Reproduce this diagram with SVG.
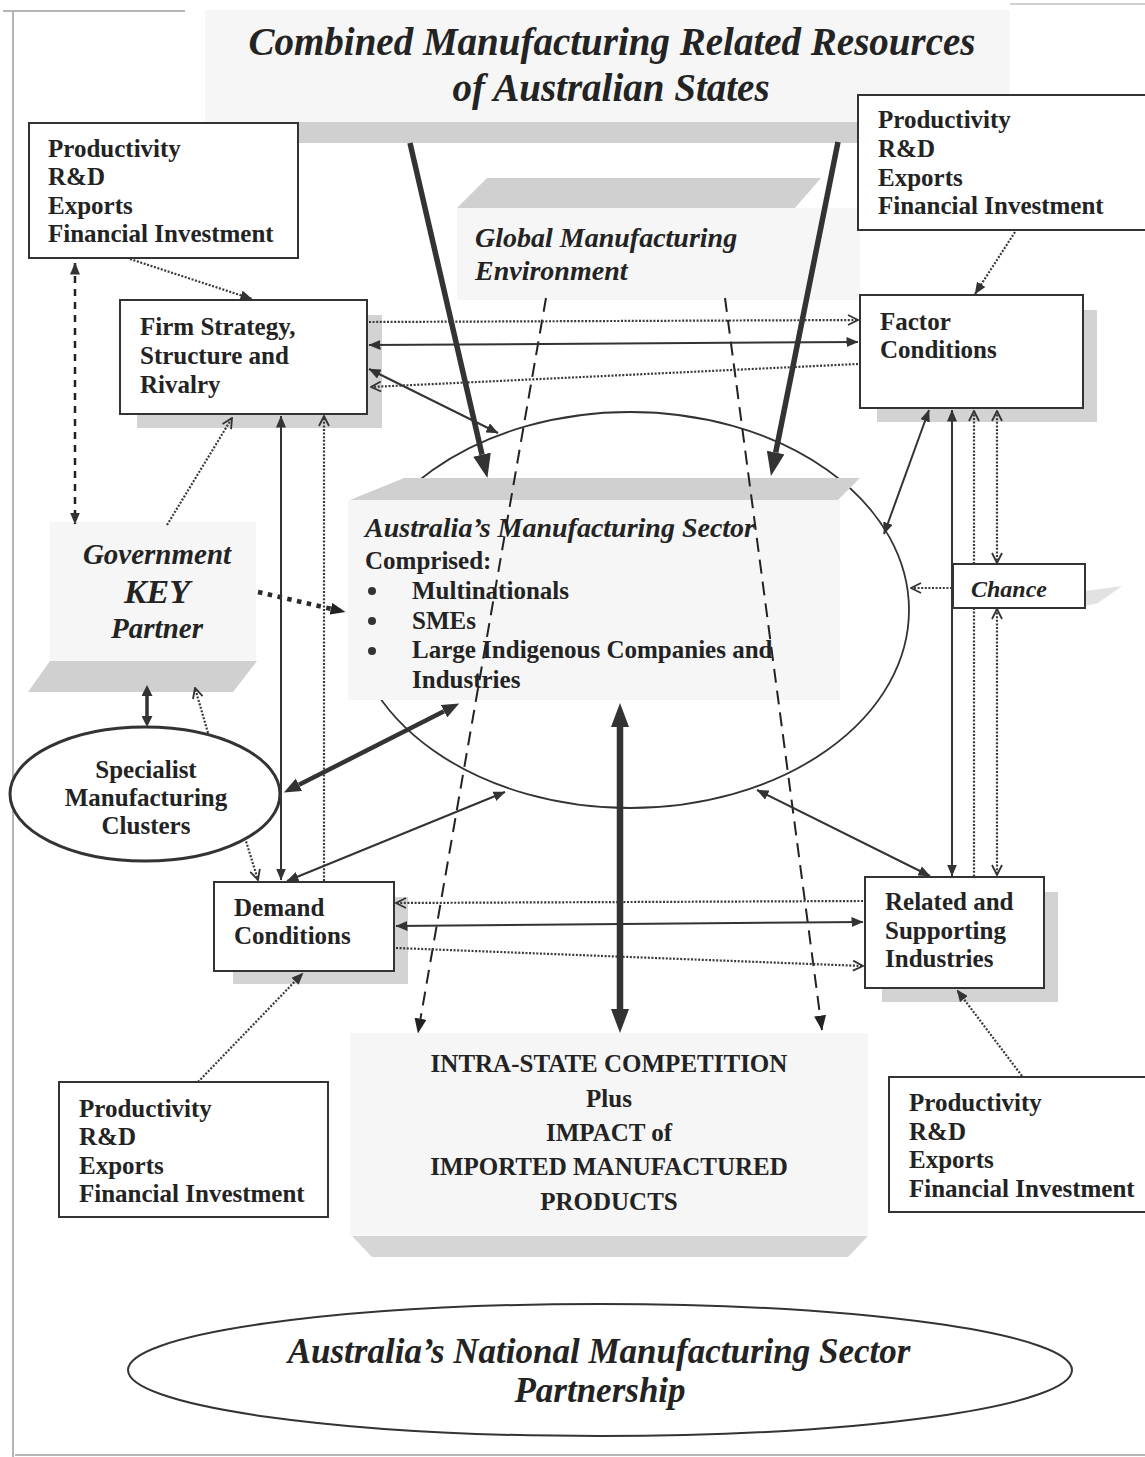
<svg xmlns="http://www.w3.org/2000/svg" width="1145" height="1457" viewBox="0 0 1145 1457">
  <style>
    text { font-family: "Liberation Serif", "Times New Roman", serif; fill: #232323; }
    .b { font-weight: bold; font-size: 25px; }
    .bi { font-weight: bold; font-style: italic; }
    .box { fill: #ffffff; stroke: #333333; stroke-width: 2; }
    .shadow { fill: #d3d3d3; }
    .panel { fill: #f6f6f6; }
    .bar { fill: #d0d0d0; }
    .solid { fill: none; stroke: #333333; stroke-width: 2; }
    .dot { fill: none; stroke: #3a3a3a; stroke-width: 2.2; stroke-dasharray: 2 1.6; }
    .dash { fill: none; stroke: #222222; stroke-width: 2; stroke-dasharray: 14 8; }
    .thick { fill: none; stroke: #333333; stroke-width: 5.5; }
    .frame { fill: none; stroke: #b5b5b5; stroke-width: 2; }
  </style>
  <defs>
    <marker id="af" viewBox="0 0 12 10" refX="11.5" refY="5" markerWidth="12" markerHeight="10" markerUnits="userSpaceOnUse" orient="auto-start-reverse">
      <path d="M0,0 L12,5 L0,10 z" fill="#333333"/>
    </marker>
    <marker id="afl" viewBox="0 0 15 12" refX="14.5" refY="6" markerWidth="15" markerHeight="12" markerUnits="userSpaceOnUse" orient="auto-start-reverse">
      <path d="M0,0 L15,6 L0,12 z" fill="#222222"/>
    </marker>
    <marker id="ch" viewBox="0 0 12 12" refX="11" refY="6" markerWidth="12" markerHeight="12" markerUnits="userSpaceOnUse" orient="auto-start-reverse">
      <path d="M1,1 L11,6 L1,11" fill="none" stroke="#333333" stroke-width="1.8"/>
    </marker>
    <marker id="abig" viewBox="0 0 24 18" refX="0" refY="9" markerWidth="24" markerHeight="18" markerUnits="userSpaceOnUse" orient="auto-start-reverse">
      <path d="M0,0 L24,9 L0,18 z" fill="#333333"/>
    </marker>
    <marker id="amed" viewBox="0 0 17 14" refX="0" refY="7" markerWidth="17" markerHeight="14" markerUnits="userSpaceOnUse" orient="auto-start-reverse">
      <path d="M0,0 L17,7 L0,14 z" fill="#333333"/>
    </marker>
    <marker id="asm" viewBox="0 0 11 11" refX="0" refY="5.5" markerWidth="11" markerHeight="11" markerUnits="userSpaceOnUse" orient="auto-start-reverse">
      <path d="M0,0 L11,5.5 L0,11 z" fill="#333333"/>
    </marker>
  </defs>

  <rect width="1145" height="1457" fill="#ffffff"/>

  <!-- page frame -->
  <g id="frame">
    <path class="frame" d="M13,10 L13,1457"/>
    <path class="frame" d="M3,11 L185,11"/>
    <path class="frame" d="M1010,4 L1145,4" style="stroke:#d0d0d0"/>
    <path class="frame" d="M15,1455 L1145,1455"/>
  </g>

  <!-- title block -->
  <g id="title">
    <rect class="panel" x="205" y="10" width="805" height="112"/>
    <rect class="bar" x="262" y="122" width="598" height="21"/>
    <text class="bi" x="612" y="55" font-size="39" text-anchor="middle">Combined Manufacturing Related Resources</text>
    <text class="bi" x="611" y="101" font-size="39" text-anchor="middle">of Australian States</text>
  </g>

  <!-- global manufacturing environment -->
  <g id="global-environment">
    <polygon class="bar" points="487,178 821,178 795,208 457,208"/>
    <rect class="panel" x="457" y="208" width="403" height="92"/>
    <text class="bi" x="475" y="247" font-size="28">Global Manufacturing</text>
    <text class="bi" x="475" y="280" font-size="28">Environment</text>
  </g>

  <!-- manufacturing sector -->
  <g id="manufacturing-sector">
    <ellipse cx="630" cy="610" rx="279" ry="198" fill="none" stroke="#333333" stroke-width="1.8"/>
    <polygon class="bar" points="404,478 860,478 838,500 350,500"/>
    <rect class="panel" x="348" y="500" width="492" height="200"/>
    <text class="bi" x="365" y="537" font-size="28">Australia’s Manufacturing Sector</text>
    <text class="b" x="365" y="569" font-size="24">Comprised:</text>
    <circle cx="372" cy="591" r="4" fill="#333333"/>
    <circle cx="372" cy="621" r="4" fill="#333333"/>
    <circle cx="372" cy="651" r="4" fill="#333333"/>
    <text class="b" x="412" y="599" font-size="24">Multinationals</text>
    <text class="b" x="412" y="629" font-size="24">SMEs</text>
    <text class="b" x="412" y="658" font-size="24">Large Indigenous Companies and</text>
    <text class="b" x="412" y="688" font-size="24">Industries</text>
  </g>

  <!-- government partner -->
  <g id="government">
    <rect class="panel" x="50" y="522" width="206" height="139"/>
    <polygon class="bar" points="50,661 257,661 233,692 28,692"/>
    <text class="bi" x="157" y="564" font-size="29" text-anchor="middle">Government</text>
    <text class="bi" x="157" y="603" font-size="34" text-anchor="middle">KEY</text>
    <text class="bi" x="157" y="638" font-size="29" text-anchor="middle">Partner</text>
  </g>

  <!-- competition block -->
  <g id="intra-state-competition">
    <rect class="panel" x="350" y="1033" width="518" height="203"/>
    <polygon class="bar" points="352,1236 868,1236 848,1257 372,1257" style="fill:#d6d6d6"/>
    <text class="b" x="609" y="1072" font-size="29" text-anchor="middle">INTRA-STATE COMPETITION</text>
    <text class="b" x="609" y="1107" font-size="29" text-anchor="middle">Plus</text>
    <text class="b" x="609" y="1141" font-size="29" text-anchor="middle">IMPACT of</text>
    <text class="b" x="609" y="1175" font-size="29" text-anchor="middle">IMPORTED MANUFACTURED</text>
    <text class="b" x="609" y="1210" font-size="29" text-anchor="middle">PRODUCTS</text>
  </g>

  <!-- national partnership -->
  <g id="national-partnership">
    <ellipse cx="600" cy="1370" rx="472" ry="66" fill="none" stroke="#333333" stroke-width="2"/>
    <text class="bi" x="599" y="1363" font-size="35" text-anchor="middle">Australia’s National Manufacturing Sector</text>
    <text class="bi" x="600" y="1402" font-size="35" text-anchor="middle">Partnership</text>
  </g>

  <!-- indicator boxes -->
  <g id="indicators-top-left">
    <rect class="box" x="29" y="123" width="269" height="135"/>
    <text class="b" x="48" y="157">Productivity</text>
    <text class="b" x="48" y="185">R&amp;D</text>
    <text class="b" x="48" y="214">Exports</text>
    <text class="b" x="48" y="242">Financial Investment</text>
  </g>
  <g id="indicators-top-right">
    <rect class="box" x="858" y="95" width="300" height="135"/>
    <text class="b" x="878" y="128">Productivity</text>
    <text class="b" x="878" y="157">R&amp;D</text>
    <text class="b" x="878" y="186">Exports</text>
    <text class="b" x="878" y="214">Financial Investment</text>
  </g>
  <g id="indicators-bottom-left">
    <rect class="box" x="59" y="1082" width="269" height="135"/>
    <text class="b" x="79" y="1117">Productivity</text>
    <text class="b" x="79" y="1145">R&amp;D</text>
    <text class="b" x="79" y="1174">Exports</text>
    <text class="b" x="79" y="1202">Financial Investment</text>
  </g>
  <g id="indicators-bottom-right">
    <rect class="box" x="889" y="1077" width="270" height="135"/>
    <text class="b" x="909" y="1111">Productivity</text>
    <text class="b" x="909" y="1140">R&amp;D</text>
    <text class="b" x="909" y="1168">Exports</text>
    <text class="b" x="909" y="1197">Financial Investment</text>
  </g>

  <!-- diamond determinants -->
  <g id="firm-strategy">
    <rect class="shadow" x="137" y="315" width="245" height="113"/>
    <rect class="box" x="120" y="300" width="247" height="114"/>
    <text class="b" x="140" y="335" font-size="24">Firm Strategy,</text>
    <text class="b" x="140" y="364" font-size="24">Structure and</text>
    <text class="b" x="140" y="393" font-size="24">Rivalry</text>
  </g>
  <g id="factor-conditions">
    <rect class="shadow" x="877" y="310" width="220" height="112"/>
    <rect class="box" x="860" y="295" width="223" height="113"/>
    <text class="b" x="880" y="330" font-size="24">Factor</text>
    <text class="b" x="880" y="358" font-size="24">Conditions</text>
  </g>
  <g id="demand-conditions">
    <rect class="shadow" x="233" y="897" width="175" height="87"/>
    <rect class="box" x="214" y="882" width="180" height="89"/>
    <text class="b" x="234" y="916" font-size="24">Demand</text>
    <text class="b" x="234" y="944" font-size="24">Conditions</text>
  </g>
  <g id="related-supporting">
    <rect class="shadow" x="882" y="892" width="176" height="110"/>
    <rect class="box" x="865" y="877" width="179" height="111"/>
    <text class="b" x="885" y="910" font-size="24">Related and</text>
    <text class="b" x="885" y="939" font-size="24">Supporting</text>
    <text class="b" x="885" y="967" font-size="24">Industries</text>
  </g>
  <g id="chance">
    <polygon points="1085,591 1122,586 1098,603 1085,606" fill="#e2e2e2"/>
    <rect class="box" x="953" y="564" width="132" height="44"/>
    <text class="bi" x="971" y="597" font-size="24">Chance</text>
  </g>
  <g id="specialist-clusters">
    <ellipse cx="145" cy="794" rx="135" ry="67" fill="#ffffff" stroke="#333333" stroke-width="3"/>
    <text class="b" x="146" y="778" font-size="24" text-anchor="middle">Specialist</text>
    <text class="b" x="146" y="806" font-size="24" text-anchor="middle">Manufacturing</text>
    <text class="b" x="146" y="834" font-size="24" text-anchor="middle">Clusters</text>
  </g>

  <!-- connectors -->
  <g id="connectors">
    <!-- resource flows from the states -->
    <path class="thick" d="M410,143 L482,454.6" marker-end="url(#abig)"/>
    <path class="thick" d="M838,142 L775.7,452.5" marker-end="url(#abig)"/>
    <!-- global environment feeding competition -->
    <path class="dash" d="M546,298 L418,1033" marker-end="url(#afl)"/>
    <path class="dash" d="M725,298 L822,1030" marker-end="url(#afl)"/>
    <!-- sector to competition -->
    <path class="thick" d="M620,727 L620,1009" style="stroke-width:6.5" marker-start="url(#abig)" marker-end="url(#abig)"/>

    <!-- left side -->
    <path class="dot" d="M130,259 L252,299" marker-end="url(#af)"/>
    <path class="dash" d="M75,263 L75,524" style="stroke-width:2.5;stroke-dasharray:7 6" marker-start="url(#af)" marker-end="url(#af)"/>
    <path class="dot" d="M167,525 L232,418" marker-end="url(#ch)"/>
    <path class="dot" d="M258,592 L345,612" style="stroke-width:4.5;stroke-dasharray:4.5 5.5;stroke:#2a2a2a" marker-end="url(#afl)"/>
    <path class="solid" d="M147,696 L147,716" style="stroke-width:3.5" marker-start="url(#asm)" marker-end="url(#asm)"/>
    <path class="dot" d="M208,733 L195,688" marker-end="url(#ch)"/>
    <path class="solid" d="M281,416 L281,880" marker-start="url(#af)" marker-end="url(#af)"/>
    <path class="dot" d="M324,881 L324,416" marker-end="url(#ch)"/>
    <path class="thick" d="M299,784.8 L444,711.2" style="stroke-width:4.5" marker-start="url(#amed)" marker-end="url(#amed)"/>
    <path class="dot" d="M245,838 L258,880" marker-end="url(#ch)"/>
    <path class="solid" d="M287,881 L505,792" marker-start="url(#af)" marker-end="url(#af)"/>

    <!-- firm strategy and factor conditions -->
    <path class="dot" d="M369,322 L858,320" marker-end="url(#ch)"/>
    <path class="solid" d="M369,345 L858,342" marker-start="url(#af)" marker-end="url(#af)"/>
    <path class="dot" d="M858,364 L371,387" marker-end="url(#ch)"/>
    <path class="solid" d="M369,369 L498,433" marker-start="url(#af)" marker-end="url(#af)"/>

    <!-- demand and related industries -->
    <path class="dot" d="M863,901 L396,903" marker-end="url(#ch)"/>
    <path class="solid" d="M396,926 L863,922" marker-start="url(#af)" marker-end="url(#af)"/>
    <path class="dot" d="M396,948 L863,966" marker-end="url(#ch)"/>

    <!-- indicator links -->
    <path class="dot" d="M198,1082 L303,973" marker-end="url(#af)"/>
    <path class="dot" d="M1022,1076 L957,990" marker-end="url(#af)"/>
    <path class="dot" d="M1015,232 L975,294" marker-end="url(#af)"/>

    <!-- right side -->
    <path class="solid" d="M929,410 L884,534" marker-start="url(#af)" marker-end="url(#af)"/>
    <path class="solid" d="M952,410 L952,876" marker-start="url(#af)" marker-end="url(#af)"/>
    <path class="dot" d="M974,564 L974,411" marker-end="url(#ch)"/>
    <path class="dot" d="M974,608 L974,876"/>
    <path class="dot" d="M997,411 L997,563" marker-start="url(#ch)" marker-end="url(#ch)"/>
    <path class="dot" d="M997,609 L997,875" marker-start="url(#ch)" marker-end="url(#ch)"/>
    <path class="dot" d="M952,588 L911,588" marker-end="url(#ch)"/>
    <path class="solid" d="M757,790 L930,876" marker-start="url(#af)" marker-end="url(#af)"/>
  </g>
</svg>
